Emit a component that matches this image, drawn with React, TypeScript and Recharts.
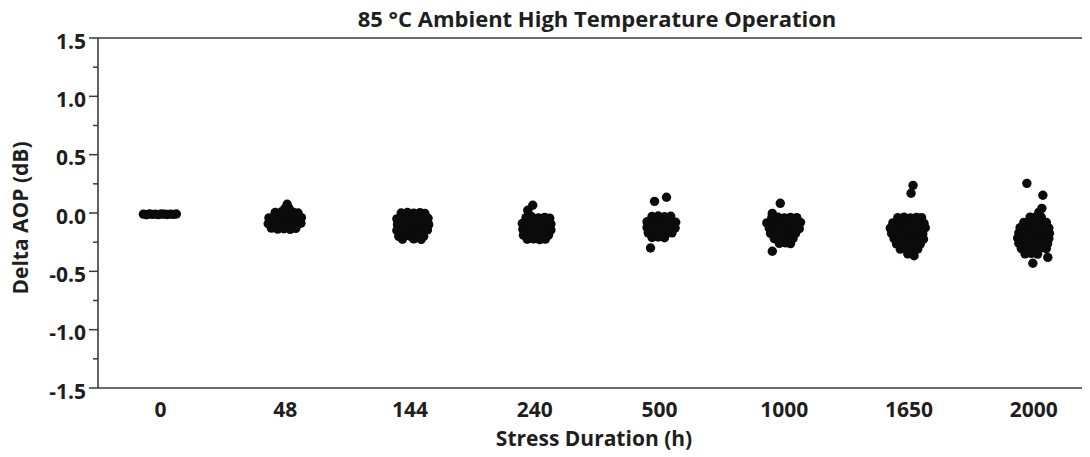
import React from "react";
import { ScatterChart, Scatter, XAxis, YAxis, ReferenceLine } from "recharts";

const categories = ["0", "48", "144", "240", "500", "1000", "1650", "2000"];
const yTicks = [-1.5, -1.25, -1, -0.75, -0.5, -0.25, 0, 0.25, 0.5, 0.75, 1, 1.25, 1.5];

// [jitter (in category units), delta AOP (dB)]
const h0Points = [
  [-0.136, -0.01], [-0.112, -0.015], [-0.088, -0.008], [-0.064, -0.012], [-0.04, -0.01], [-0.016, -0.014],
  [0.008, -0.009], [0.032, -0.011], [0.056, -0.013], [0.08, -0.01], [0.104, -0.012], [0.128, -0.009],
];
const h48Points = [
  [-0.08, 0.004], [-0.032, 0.008], [0.016, 0.002], [0.064, 0.006], [0.104, 0.0],
  [-0.13, -0.042], [-0.085, -0.048], [-0.04, -0.04], [0.005, -0.05], [0.05, -0.044], [0.095, -0.047], [0.13, -0.04],
  [-0.136, -0.092], [-0.09, -0.098], [-0.045, -0.09], [0.0, -0.096], [0.045, -0.1], [0.09, -0.093], [0.126, -0.088],
  [-0.11, -0.13], [-0.06, -0.138], [-0.01, -0.135], [0.04, -0.14], [0.085, -0.132],
  [0.016, 0.075], [-0.004, 0.035], [0.03, 0.04],
];
const h144Points = [
  [-0.07, 0.0], [-0.02, 0.004], [0.03, -0.002], [0.08, 0.003], [0.12, -0.004],
  [-0.105, -0.05], [-0.055, -0.046], [-0.005, -0.052], [0.045, -0.048], [0.095, -0.05], [0.145, -0.045],
  [-0.1, -0.1], [-0.05, -0.104], [0.0, -0.097], [0.05, -0.102], [0.1, -0.099], [0.15, -0.1],
  [-0.105, -0.15], [-0.055, -0.146], [-0.005, -0.152], [0.045, -0.148], [0.095, -0.15], [0.14, -0.145],
  [-0.09, -0.2], [-0.04, -0.196], [0.01, -0.202], [0.06, -0.198], [0.11, -0.2],
  [-0.06, -0.225], [0.03, -0.222], [0.09, -0.226],
];
const h240Points = [
  [-0.07, -0.04], [-0.02, -0.036], [0.03, -0.042], [0.08, -0.038], [0.12, -0.044],
  [-0.1, -0.09], [-0.05, -0.086], [0.0, -0.092], [0.05, -0.088], [0.1, -0.09], [0.13, -0.094],
  [-0.095, -0.14], [-0.045, -0.136], [0.005, -0.142], [0.055, -0.138], [0.105, -0.14], [0.13, -0.146],
  [-0.09, -0.19], [-0.04, -0.186], [0.01, -0.192], [0.06, -0.188], [0.11, -0.19],
  [-0.06, -0.225], [-0.01, -0.222], [0.04, -0.228], [0.085, -0.224],
  [-0.016, 0.066], [-0.056, 0.023], [-0.04, -0.02],
];
const h500Points = [
  [-0.06, -0.03], [-0.01, -0.026], [0.04, -0.032], [0.09, -0.028],
  [-0.1, -0.075], [-0.05, -0.071], [0.0, -0.077], [0.05, -0.073], [0.1, -0.075], [0.13, -0.079],
  [-0.1, -0.125], [-0.05, -0.121], [0.0, -0.127], [0.05, -0.123], [0.1, -0.125], [0.125, -0.129],
  [-0.09, -0.17], [-0.04, -0.166], [0.01, -0.172], [0.06, -0.168], [0.1, -0.17],
  [-0.06, -0.21], [-0.01, -0.206], [0.04, -0.212],
  [-0.04, 0.1], [0.056, 0.135], [-0.072, -0.3],
];
const h1000Points = [
  [-0.1, -0.04], [-0.05, -0.036], [0.0, -0.042], [0.05, -0.038], [0.1, -0.04],
  [-0.14, -0.085], [-0.09, -0.081], [-0.04, -0.087], [0.01, -0.083], [0.06, -0.085], [0.11, -0.089], [0.13, -0.08],
  [-0.12, -0.13], [-0.07, -0.126], [-0.02, -0.132], [0.03, -0.128], [0.08, -0.13], [0.12, -0.134],
  [-0.11, -0.175], [-0.06, -0.171], [-0.01, -0.177], [0.04, -0.173], [0.09, -0.175],
  [-0.08, -0.22], [-0.03, -0.216], [0.02, -0.222], [0.07, -0.218],
  [-0.04, -0.26], [0.01, -0.256], [0.05, -0.262],
  [-0.032, 0.083], [-0.096, -0.003], [-0.096, -0.328],
];
const h1650Points = [
  [-0.09, -0.04], [-0.04, -0.036], [0.01, -0.042], [0.06, -0.038], [0.1, -0.04],
  [-0.13, -0.085], [-0.08, -0.081], [-0.03, -0.087], [0.02, -0.083], [0.07, -0.085], [0.12, -0.089],
  [-0.15, -0.13], [-0.1, -0.126], [-0.05, -0.132], [0.0, -0.128], [0.05, -0.13], [0.1, -0.134], [0.13, -0.126],
  [-0.14, -0.175], [-0.09, -0.171], [-0.04, -0.177], [0.01, -0.173], [0.06, -0.175], [0.11, -0.179],
  [-0.12, -0.22], [-0.07, -0.216], [-0.02, -0.222], [0.03, -0.218], [0.08, -0.22], [0.115, -0.224],
  [-0.1, -0.265], [-0.05, -0.261], [0.0, -0.267], [0.05, -0.263], [0.09, -0.265],
  [-0.07, -0.31], [-0.02, -0.306], [0.03, -0.312], [0.07, -0.308],
  [-0.01, -0.35], [0.04, -0.366],
  [0.032, 0.237], [0.016, 0.169],
];
const h2000Points = [
  [-0.03, -0.035], [0.02, -0.031], [0.06, -0.037],
  [-0.08, -0.08], [-0.03, -0.076], [0.02, -0.082], [0.07, -0.078], [0.1, -0.08],
  [-0.11, -0.125], [-0.06, -0.121], [-0.01, -0.127], [0.04, -0.123], [0.09, -0.125], [0.12, -0.129],
  [-0.12, -0.17], [-0.07, -0.166], [-0.02, -0.172], [0.03, -0.168], [0.08, -0.17], [0.125, -0.174],
  [-0.13, -0.215], [-0.08, -0.211], [-0.03, -0.217], [0.02, -0.213], [0.07, -0.215], [0.12, -0.219],
  [-0.12, -0.26], [-0.07, -0.256], [-0.02, -0.262], [0.03, -0.258], [0.08, -0.26], [0.11, -0.264],
  [-0.1, -0.305], [-0.05, -0.301], [0.0, -0.307], [0.05, -0.303], [0.1, -0.305],
  [-0.07, -0.35], [-0.02, -0.346], [0.03, -0.352],
  [-0.056, 0.254], [0.072, 0.152], [0.064, 0.04], [0.04, 0.006], [-0.008, -0.431], [0.112, -0.38],
];

const groups = [h0Points, h48Points, h144Points, h240Points, h500Points, h1000Points, h1650Points, h2000Points];
const data = groups.flatMap((pts, i) => pts.map(([j, v]) => ({ x: i + j, y: v })));

const FONT = "'Open Sans', sans-serif";
const TEXT = "#1e1e1e";
const AXIS = "#3a3a3a";

const YTick = (props: any) => {
  const { x, y, payload } = props;
  const v = payload.value;
  const major = Math.abs(v * 2 - Math.round(v * 2)) < 1e-6;
  return (
    <g>
      <line x1={x} x2={x - (major ? 9 : 5)} y1={y} y2={y} stroke={AXIS} strokeWidth={1.5} />
      {major && (
        <text x={x - 12} y={y + 5} textAnchor="end" fontSize={21} fontWeight={700} fill={TEXT} fontFamily={FONT} dominantBaseline="middle">
          {v.toFixed(1)}
        </text>
      )}
    </g>
  );
};

const XTick = (props: any) => {
  const { x, y, payload } = props;
  return (
    <text x={x} y={y + 21} textAnchor="middle" dominantBaseline="middle" fontSize={21} fontWeight={700} fill={TEXT} fontFamily={FONT}>
      {categories[payload.value]}
    </text>
  );
};

const Dot = (props: any) => {
  const { cx, cy } = props;
  return <circle cx={cx} cy={cy} r={4.7} fill="#0b0b0b" />;
};

export default function App() {
  return (
    <div style={{ position: "relative", width: 1082, height: 449 }}>
      <div
        style={{
          position: "absolute", left: 0, width: 1178, top: -3, textAlign: "center",
          fontFamily: FONT, fontWeight: 700, fontSize: 22, color: TEXT, lineHeight: "26px",
        }}
      >
        85 °C Ambient High Temperature Operation
      </div>
      <div
        style={{
          position: "absolute", left: 0, width: 1172, top: 417, textAlign: "center",
          fontFamily: FONT, fontWeight: 700, fontSize: 21, color: TEXT, lineHeight: "26px",
        }}
      >
        Stress Duration (h)
      </div>
      <div style={{ position: "absolute", left: 12, top: 210, width: 0, height: 0 }}>
        <div
          style={{
            position: "absolute", transform: "translate(-50%, -50%) rotate(-90deg)", whiteSpace: "nowrap",
            fontFamily: FONT, fontWeight: 700, fontSize: 21, color: TEXT, lineHeight: "24px",
          }}
        >
          Delta AOP (dB)
        </div>
      </div>
      <ScatterChart width={1082} height={449} margin={{ top: 30, right: 0, bottom: 39, left: 0 }} style={{ position: "absolute", left: 0, top: 0 }}>
        <XAxis
          type="number"
          dataKey="x"
          domain={[-0.5, 7.45]}
          ticks={[0, 1, 2, 3, 4, 5, 6, 7]}
          tick={<XTick />}
          tickLine={false}
          tickSize={0}
          height={30}
          axisLine={{ stroke: AXIS, strokeWidth: 1.6 }}
          allowDataOverflow
        />
        <YAxis
          type="number"
          dataKey="y"
          domain={[-1.5, 1.5]}
          ticks={yTicks}
          tick={<YTick />}
          tickLine={false}
          tickSize={0}
          tickMargin={0}
          width={90}
          axisLine={{ stroke: AXIS, strokeWidth: 1.6 }}
          interval={0}
          allowDataOverflow
        />
        <ReferenceLine y={1.5} stroke={AXIS} strokeWidth={1.6} />
        <Scatter data={data} shape={<Dot />} isAnimationActive={false} />
      </ScatterChart>
    </div>
  );
}
